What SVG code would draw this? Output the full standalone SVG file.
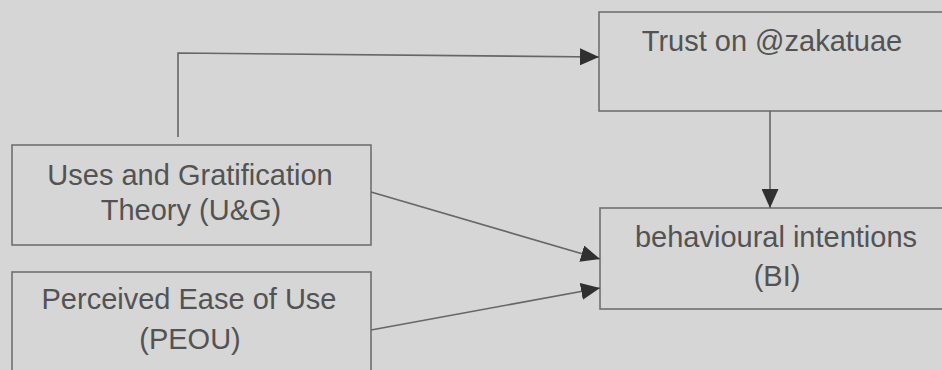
<svg xmlns="http://www.w3.org/2000/svg" width="942" height="370" viewBox="0 0 942 370">
  <defs>
    <marker id="arrow" markerWidth="19" markerHeight="17" refX="19" refY="8.5" orient="auto" markerUnits="userSpaceOnUse">
      <path d="M0,0 L19,8.5 L0,17 Z" fill="#303030"/>
    </marker>
    <style>
      .box { fill: none; stroke: #707070; stroke-width: 1.6; }
      .lbl { font-family: "Liberation Sans", Arial, sans-serif; font-size: 29px; fill: #535353; text-anchor: middle; }
      .edge { fill: none; stroke: #666; stroke-width: 1.6; marker-end: url(#arrow); }
    </style>
  </defs>

  <rect width="942" height="370" fill="#d6d6d6"/>

  <g id="trust">
    <rect class="box" x="599" y="12" width="370" height="99"/>
    <text class="lbl" x="772" y="51">Trust on @zakatuae</text>
  </g>

  <g id="bi">
    <rect class="box" x="600" y="208" width="370" height="101"/>
    <text class="lbl" x="776" y="247">behavioural intentions</text>
    <text class="lbl" x="777" y="286">(BI)</text>
  </g>

  <g id="ug">
    <rect class="box" x="12" y="145" width="359" height="100"/>
    <text class="lbl" x="190" y="185">Uses and Gratification</text>
    <text class="lbl" x="191" y="220">Theory (U&amp;G)</text>
  </g>

  <g id="peou">
    <rect class="box" x="12" y="272" width="359" height="110"/>
    <text class="lbl" x="189" y="309">Perceived Ease of Use</text>
    <text class="lbl" x="190" y="349">(PEOU)</text>
  </g>

  <g id="connectors">
    <path class="edge" d="M178,137 L178,53 L599,57"/>
    <path class="edge" d="M770,111 L770,208"/>
    <path class="edge" d="M371,192 L600,259"/>
    <path class="edge" d="M371,330 L600,288"/>
  </g>
</svg>
